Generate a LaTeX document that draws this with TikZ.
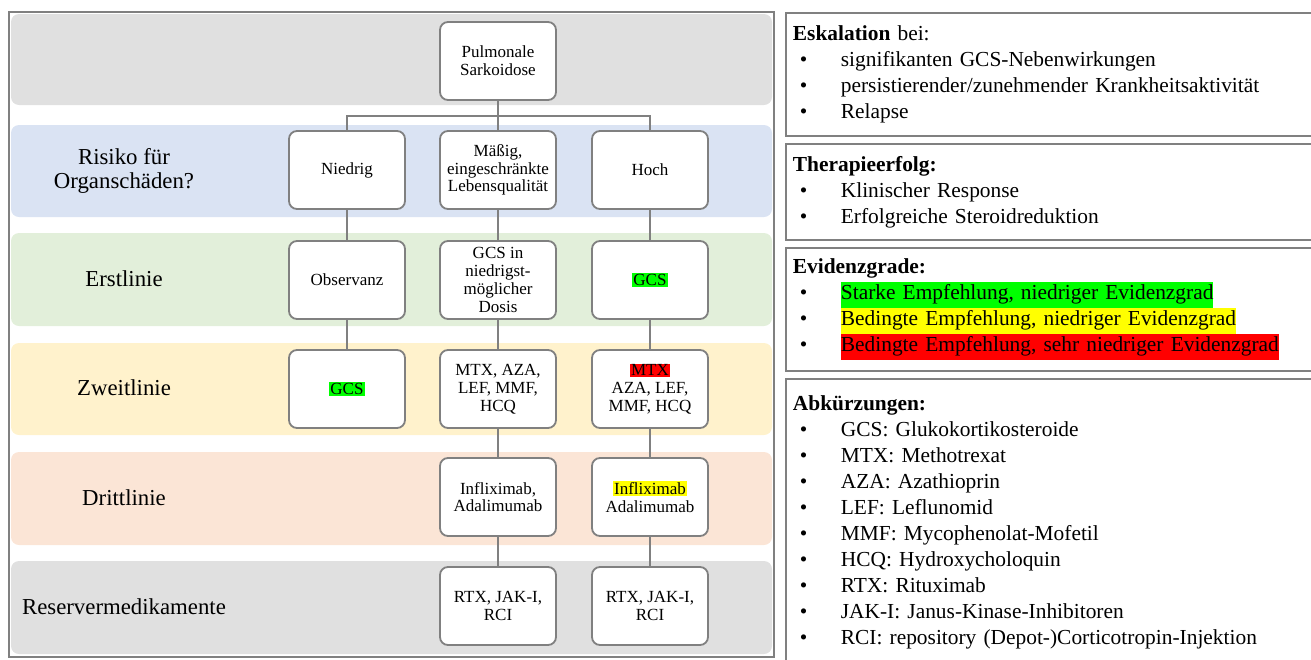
\documentclass[tikz,border=0pt]{standalone}
\usepackage{fontspec}
\setmainfont{Liberation Serif}
\usepackage{xcolor}
\definecolor{framegray}{HTML}{808080}
\definecolor{bandgray}{HTML}{E0E0E0}
\definecolor{bandblue}{HTML}{DAE3F3}
\definecolor{bandgreen}{HTML}{E2EFDA}
\definecolor{bandyellow}{HTML}{FFF2CC}
\definecolor{bandorange}{HTML}{FBE5D6}
\definecolor{hlgreen}{HTML}{00FF00}
\definecolor{hlyellow}{HTML}{FFFF00}
\definecolor{hlred}{HTML}{FF0000}
\newcommand{\boxfont}{\fontsize{8.5}{8.9}\selectfont}
\newcommand{\labelfont}{\fontsize{11.4}{11.8}\selectfont}
\newcommand{\listfont}{\fontsize{10.7}{13}\selectfont}
\newcommand{\itm}{\hspace*{3.5pt}\makebox[20.5pt][l]{\textbullet}}
\newcommand{\hlbox}[2]{{\setlength{\fboxsep}{0.6pt}\colorbox{#1}{#2}}}
\newcommand{\hlbar}[2]{{\setlength{\fboxsep}{0pt}\colorbox{#1}{\strut #2}}}

\begin{document}
\begin{tikzpicture}[x=0.5pt,y=-0.5pt,
	band/.style={rounded corners=4pt},
	box/.style={draw=framegray,line width=0.9pt,fill=white,rounded corners=4pt,
		minimum width=58pt,minimum height=39pt,inner sep=1pt,align=center,font=\boxfont},
	rowlabel/.style={align=center,font=\labelfont},
	link/.style={draw=framegray,line width=0.8pt},
	rbox/.style={draw=framegray,line width=0.9pt,anchor=north west,inner xsep=3.5pt,
		inner ysep=0pt,text width=263pt,align=left,font=\listfont}]
	\useasboundingbox (0,0) rectangle (1311,659);
	\clip (0,0) rectangle (1311,659);
	% left panel
	\draw[framegray,line width=0.9pt] (9,12) rectangle (774,657);
	\fill[band,bandgray] (11,14) rectangle (772,105);
	\fill[band,bandblue] (11,125) rectangle (772,217);
	\fill[band,bandgreen] (11,233) rectangle (772,326);
	\fill[band,bandyellow] (11,343) rectangle (772,435);
	\fill[band,bandorange] (11,452) rectangle (772,545);
	\fill[band,bandgray] (11,561) rectangle (772,654);
	\node[rowlabel] (lrisk) at (124,171) {Risiko für\\Organschäden?};
	\node[rowlabel] (lfirst) at (124,279) {Erstlinie};
	\node[rowlabel] (lsecond) at (124,388) {Zweitlinie};
	\node[rowlabel] (lthird) at (124,498) {Drittlinie};
	\node[rowlabel] (lreserve) at (124,607) {Reservermedikamente};
	\node[box] (root) at (498,61) {Pulmonale\\Sarkoidose};
	\node[box] (low) at (347,170) {Niedrig};
	\node[box] (mid) at (498,170) {Mäßig,\\eingeschränkte\\Lebensqualität};
	\node[box] (high) at (650,170) {Hoch};
	\node[box] (obs) at (347,280) {Observanz};
	\node[box] (gcslow) at (498,280) {GCS in\\niedrigst-\\möglicher\\Dosis};
	\node[box] (gcs) at (650,280) {\hlbox{hlgreen}{GCS}};
	\node[box] (second1) at (347,389) {\hlbox{hlgreen}{GCS}};
	\node[box] (second2) at (498,389) {MTX, AZA,\\LEF, MMF,\\HCQ};
	\node[box] (second3) at (650,389) {\hlbox{hlred}{MTX}\\AZA, LEF,\\MMF, HCQ};
	\node[box] (third2) at (498,497) {Infliximab,\\Adalimumab};
	\node[box] (third3) at (650,497) {\hlbox{hlyellow}{Infliximab}\\Adalimumab};
	\node[box] (res2) at (498,606) {RTX, JAK-I,\\RCI};
	\node[box] (res3) at (650,606) {RTX, JAK-I,\\RCI};
	\coordinate (split) at (498,116);
	\draw[link] (root) -- (mid);
	\draw[link] (low.north) |- (split) -| (high.north);
	\draw[link] (low) -- (obs);
	\draw[link] (obs) -- (second1);
	\draw[link] (mid) -- (gcslow);
	\draw[link] (gcslow) -- (second2);
	\draw[link] (second2) -- (third2);
	\draw[link] (third2) -- (res2);
	\draw[link] (high) -- (gcs);
	\draw[link] (gcs) -- (second3);
	\draw[link] (second3) -- (third3);
	\draw[link] (third3) -- (res3);
	% right panel
	\node[rbox,minimum height=61.5pt] (escal) at (785,12) {\textbf{Eskalation} bei:\\
		\itm signifikanten GCS-Nebenwirkungen\\
		\itm persistierender/zunehmender Krankheitsaktivität\\
		\itm Relapse};
	\node[rbox,minimum height=48pt] (success) at (785,143) {\textbf{Therapieerfolg:}\\
		\itm Klinischer Response\\
		\itm Erfolgreiche Steroidreduktion};
	\node[rbox,minimum height=61.5pt] (evidence) at (785,247) {\textbf{Evidenzgrade:}\\
		\itm\hlbar{hlgreen}{Starke Empfehlung, niedriger Evidenzgrad}\\
		\itm\hlbar{hlyellow}{Bedingte Empfehlung, niedriger Evidenzgrad}\\
		\itm\hlbar{hlred}{Bedingte Empfehlung, sehr niedriger Evidenzgrad}};
	\node[rbox,minimum height=143pt] (abbrev) at (785,378) {\textbf{Abkürzungen:}\\
		\itm GCS: Glukokortikosteroide\\
		\itm MTX: Methotrexat\\
		\itm AZA: Azathioprin\\
		\itm LEF: Leflunomid\\
		\itm MMF: Mycophenolat-Mofetil\\
		\itm HCQ: Hydroxycholoquin\\
		\itm RTX: Rituximab\\
		\itm JAK-I: Janus-Kinase-Inhibitoren\\
		\itm RCI: repository (Depot-)Corticotropin-Injektion};
\end{tikzpicture}
\end{document}
